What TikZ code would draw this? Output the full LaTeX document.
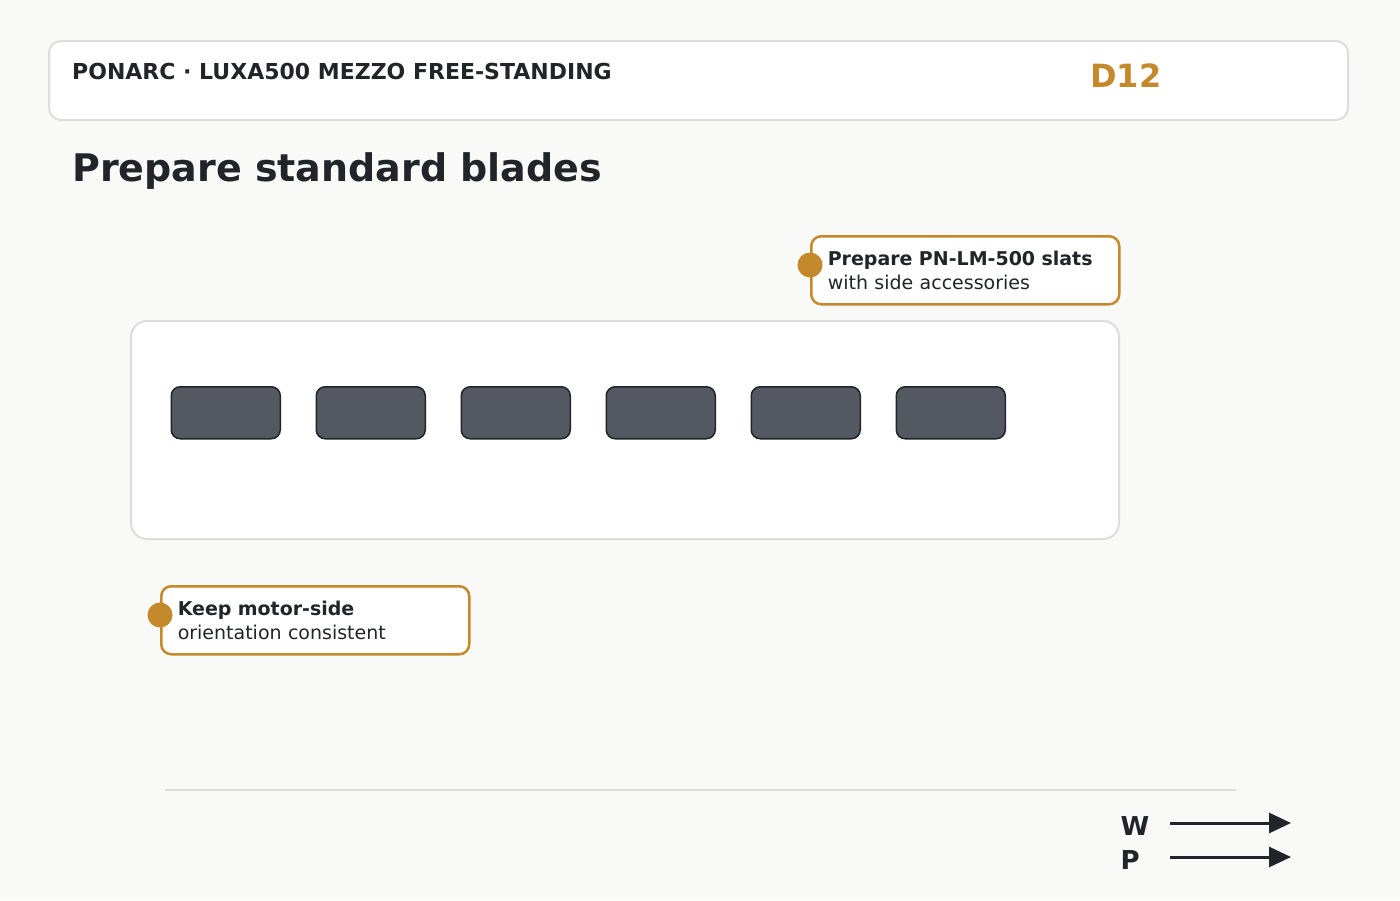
\documentclass[tikz,border=0pt]{standalone}
\usepackage{fontspec}
\setmainfont{DejaVu Sans}
\usetikzlibrary{arrows.meta,positioning}

\definecolor{paperbg}{RGB}{249,249,247}
\definecolor{inkdark}{RGB}{33,37,41}
\definecolor{brass}{RGB}{196,137,42}
\definecolor{bladegray}{RGB}{84,89,97}
\definecolor{rulegray}{RGB}{221,221,221}

\tikzset{
  panel/.style={draw=rulegray, line width=2pt, fill=white},
  blade/.style={draw=inkdark, line width=1.5pt, fill=bladegray, rounded corners=9pt,
    minimum width=109pt, minimum height=52pt, inner sep=0pt, anchor=north west},
  callout/.style={draw=brass, line width=2.5pt, fill=white, rounded corners=10pt,
    text width=275pt, inner xsep=16.5pt, minimum height=68pt, align=left,
    anchor=north west, text=inkdark, font=\fontsize{19}{24}\selectfont},
  pin/.style={circle, fill=brass, minimum size=25pt, inner sep=0pt},
  flowarrow/.style={draw=inkdark, line width=3pt, -{Triangle[length=22pt,width=20pt]}},
  flowlabel/.style={anchor=base west, text=inkdark, font=\fontsize{26}{26}\selectfont\bfseries},
}

\begin{document}
\begin{tikzpicture}[x=1pt,y=-1pt]
  % page
  \fill[paperbg] (0,0) rectangle (1400,900);
  \useasboundingbox (0,0) rectangle (1400,900);

  % header bar
  \draw[panel, rounded corners=12pt] (49,41) rectangle (1348,120);
  \node[anchor=base west, inner sep=0pt, text=inkdark, font=\fontsize{22}{22}\selectfont\bfseries]
    (header) at (72,79) {PONARC · LUXA500 MEZZO FREE-STANDING};
  \node[anchor=base west, inner sep=0pt, text=brass, font=\fontsize{32}{32}\selectfont\bfseries]
    (code) at (1090,87) {D12};

  % title
  \node[anchor=base west, inner sep=0pt, text=inkdark, font=\fontsize{38}{38}\selectfont\bfseries]
    (title) at (72,181) {Prepare standard blades};

  % blade tray
  \draw[panel, rounded corners=16pt] (131,321) rectangle (1119,539);
  \foreach \i in {0,...,5}
    \node[blade] (blade\i) at (170.5+145*\i,386) {};

  % callouts
  \node[callout] (slats) at (810,235)
    {\textbf{Prepare PN-LM-500 slats}\\with side accessories};
  \node[pin] (slatspin) at ([yshift=-30pt]slats.north west) {};
  \node[callout] (motor) at (160,585)
    {\textbf{Keep motor-side}\\orientation consistent};
  \node[pin] (motorpin) at ([yshift=-30pt]motor.north west) {};

  % footer
  \draw[rulegray, line width=2pt] (165,790) -- (1236,790);
  \node[flowlabel] (wlabel) at (1117,835) {W};
  \node[flowlabel] (plabel) at (1117,869) {P};
  \coordinate (wstart) at (1170,823);
  \coordinate (wend) at (1291,823);
  \coordinate (pstart) at (1170,857);
  \coordinate (pend) at (1291,857);
  \draw[flowarrow] (wstart) -- (wend);
  \draw[flowarrow] (pstart) -- (pend);
\end{tikzpicture}
\end{document}
